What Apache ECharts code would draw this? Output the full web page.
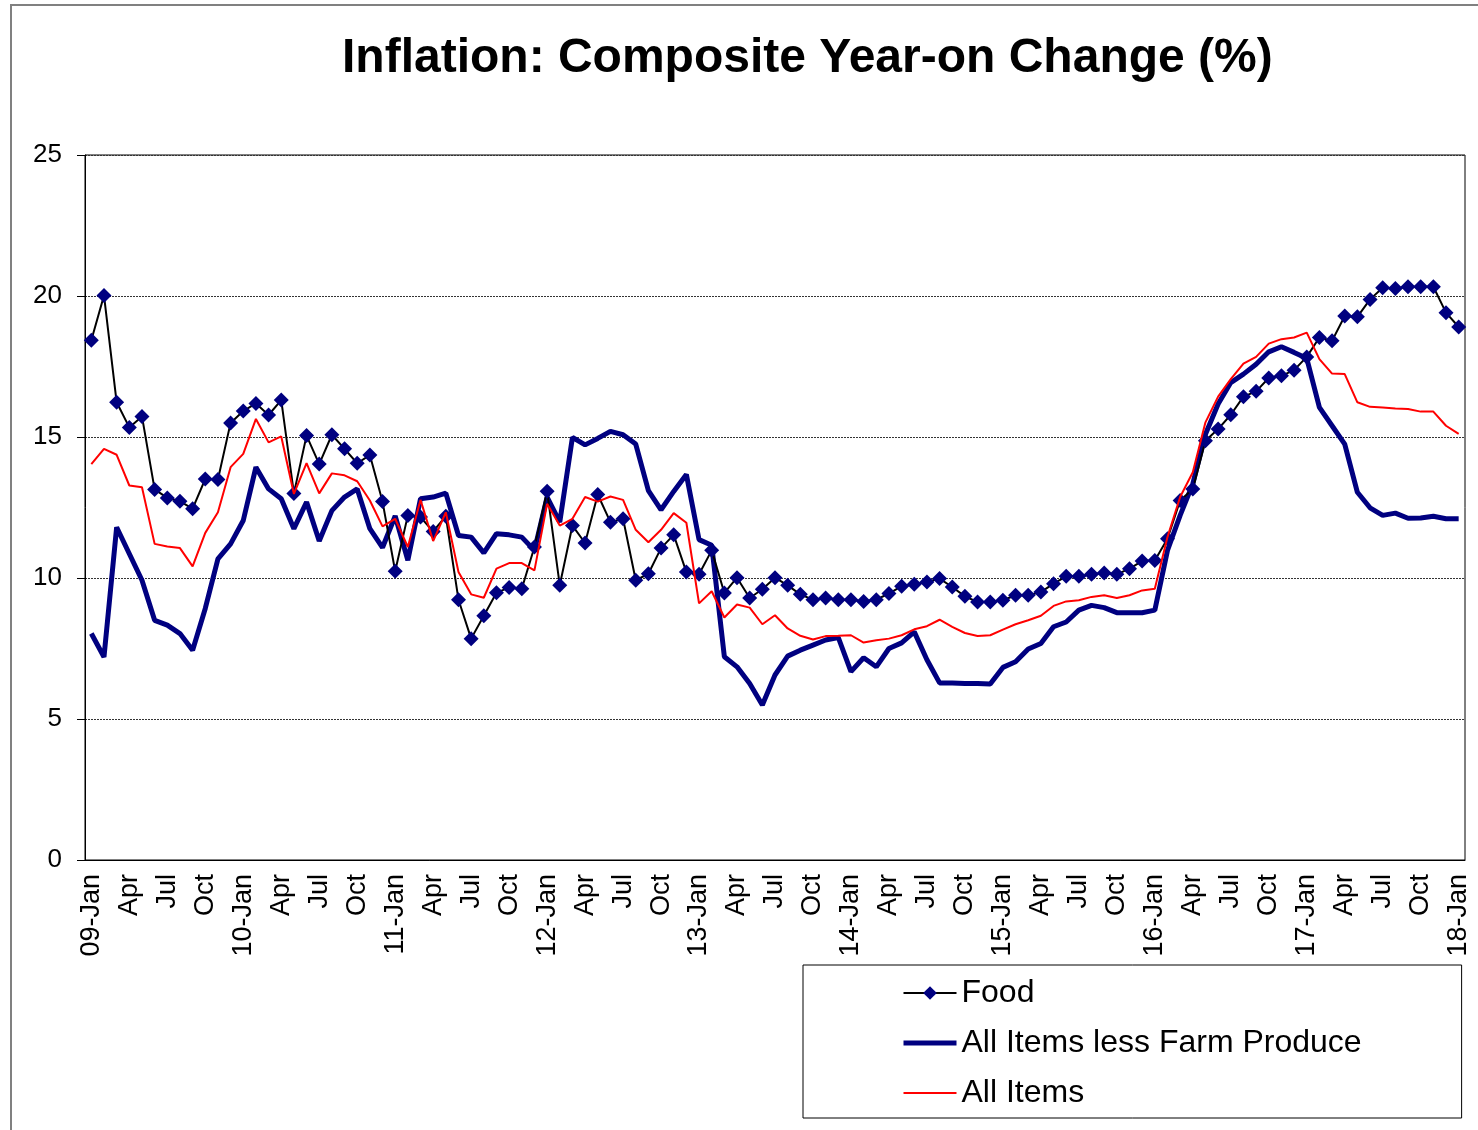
<!DOCTYPE html>
<html>
<head>
<meta charset="utf-8">
<script src="https://cdn.jsdelivr.net/npm/echarts@6/dist/echarts.min.js"></script>
<style>
  html, body { margin: 0; padding: 0; background: #fff; }
  #chart { width: 1478px; height: 1130px; }
</style>
</head>
<body>
<div id="chart"></div>
<script>
// months Jan 2009 .. Jan 2018
const years = ['09', '10', '11', '12', '13', '14', '15', '16', '17', '18'];
const monthNames = ['Jan', 'Feb', 'Mar', 'Apr', 'May', 'Jun', 'Jul', 'Aug', 'Sep', 'Oct', 'Nov', 'Dec'];

const categories = [];
years.forEach((y, yi) => {
    monthNames.forEach((m, mi) => {
        if (yi === years.length - 1 && mi > 0) return;
        categories.push(mi === 0 ? `${y}-${m}` : m);
    });
});

const food = [
    18.43, 20.02, 16.23, 15.34, 15.73, 13.14, 12.84, 12.72, 12.46, 13.51, 13.49, 15.5,
    15.92, 16.19, 15.78, 16.31, 13.0, 15.05, 14.04, 15.08, 14.58, 14.07, 14.36, 12.71,
    10.24, 12.22, 12.16, 11.65, 12.19, 9.23, 7.85, 8.66, 9.48, 9.66, 9.62, 11.1,
    13.08, 9.74, 11.86, 11.24, 12.96, 11.98, 12.1, 9.92, 10.15, 11.06, 11.53, 10.21,
    10.13, 10.98, 9.47, 10.01, 9.29, 9.6, 10.01, 9.74, 9.42, 9.23, 9.29, 9.23,
    9.23, 9.17, 9.23, 9.45, 9.71, 9.78, 9.86, 9.98, 9.68, 9.35, 9.15, 9.15,
    9.21, 9.39, 9.39, 9.5, 9.8, 10.06, 10.06, 10.13, 10.18, 10.13, 10.33, 10.6,
    10.62, 11.39, 12.75, 13.16, 14.87, 15.28, 15.79, 16.43, 16.62, 17.09, 17.17, 17.37,
    17.84, 18.53, 18.41, 19.29, 19.26, 19.88, 20.29, 20.27, 20.33, 20.33, 20.33, 19.41,
    18.9
];

const lessFarm = [
    8.03, 7.2, 11.8, 10.86, 9.92, 8.5, 8.33, 8.03, 7.44, 8.92, 10.68, 11.21,
    12.04, 13.93, 13.16, 12.81, 11.75, 12.69, 11.31, 12.39, 12.87, 13.16, 11.75, 11.08,
    12.2, 10.63, 12.81, 12.87, 13.01, 11.51, 11.45, 10.89, 11.57, 11.53, 11.45, 10.98,
    12.87, 11.98, 14.99, 14.72, 14.95, 15.2, 15.08, 14.75, 13.1, 12.42, 13.07, 13.67,
    11.36, 11.16, 7.21, 6.85, 6.26, 5.5, 6.56, 7.23, 7.44, 7.62, 7.8, 7.89,
    6.68, 7.17, 6.85, 7.5, 7.7, 8.09, 7.1, 6.28, 6.28, 6.26, 6.26, 6.24,
    6.83, 7.03, 7.48, 7.68, 8.27, 8.44, 8.86, 9.03, 8.95, 8.77, 8.77, 8.77,
    8.86, 10.98, 12.22, 13.34, 15.1, 16.17, 16.93, 17.23, 17.58, 18.02, 18.2, 18.0,
    17.79, 16.05, 15.4, 14.75, 13.04, 12.49, 12.22, 12.3, 12.12, 12.13, 12.19, 12.1,
    12.1
];

const allItems = [
    14.04, 14.58, 14.37, 13.28, 13.22, 11.21, 11.12, 11.06, 10.41, 11.6, 12.33, 13.93,
    14.4, 15.64, 14.81, 15.02, 12.98, 14.07, 13.0, 13.71, 13.64, 13.43, 12.75, 11.83,
    12.1, 11.1, 12.77, 11.31, 12.33, 10.21, 9.42, 9.3, 10.33, 10.53, 10.53, 10.27,
    12.63, 11.86, 12.1, 12.87, 12.71, 12.89, 12.77, 11.71, 11.27, 11.71, 12.3, 11.96,
    9.1, 9.53, 8.6, 9.06, 8.95, 8.36, 8.68, 8.21, 7.95, 7.82, 7.94, 7.95,
    7.97, 7.71, 7.79, 7.85, 7.97, 8.18, 8.29, 8.52, 8.27, 8.05, 7.94, 7.97,
    8.17, 8.36, 8.5, 8.66, 9.01, 9.17, 9.21, 9.33, 9.39, 9.29, 9.39, 9.56,
    9.62, 11.45, 12.87, 13.75, 15.52, 16.43, 17.05, 17.6, 17.84, 18.31, 18.47, 18.53,
    18.7, 17.76, 17.25, 17.23, 16.23, 16.07, 16.05, 16.01, 15.99, 15.9, 15.9, 15.4,
    15.11
];

const font = "'Liberation Sans', Arial, sans-serif";
const noMarker = { color: 'rgba(0,0,0,0)', borderWidth: 0 };

const chart = echarts.init(document.getElementById('chart'));

const option = {
    animation: false,
    backgroundColor: '#fff',
    title: {
        text: 'Inflation: Composite Year-on Change (%)',
        left: 342,
        top: 35,
        padding: 0,
        textStyle: { fontFamily: font, fontSize: 48, fontWeight: 'bold', color: '#000' }
    },
    graphic: [{
        type: 'rect',
        shape: { x: 11, y: 5, width: 1600, height: 1300 },
        style: { fill: 'none', stroke: '#808080', lineWidth: 2 },
        silent: true
    }],
    legend: {
        orient: 'vertical',
        left: 803,
        top: 965,
        padding: [12, 100, 9, 98],
        itemGap: 18,
        itemWidth: 53,
        itemHeight: 17,
        borderColor: '#000',
        borderWidth: 1,
        textStyle: { fontFamily: font, fontSize: 32, lineHeight: 32, color: '#000' },
        data: [
            { name: 'Food' },
            { name: 'All Items less Farm Produce', itemStyle: noMarker, lineStyle: { width: 5 } },
            { name: 'All Items', itemStyle: noMarker, lineStyle: { width: 2 } }
        ]
    },
    grid: {
        left: 85,
        right: 13,
        top: 155,
        bottom: 270,
        show: true,
        borderColor: '#000',
        borderWidth: 1
    },
    xAxis: {
        type: 'category',
        data: categories,
        boundaryGap: true,
        axisLine: { lineStyle: { color: '#000', width: 1 } },
        axisTick: { interval: 2, length: 6, lineStyle: { color: '#000' } },
        axisLabel: {
            interval: 2,
            rotate: 90,
            margin: 14,
            fontFamily: font,
            fontSize: 27,
            color: '#000'
        },
        splitLine: { show: false }
    },
    yAxis: {
        type: 'value',
        min: 0,
        max: 25,
        interval: 5,
        axisLine: { show: true, lineStyle: { color: '#000', width: 1 } },
        axisTick: { show: true, length: 8, lineStyle: { color: '#000' } },
        axisLabel: { margin: 23, fontFamily: font, fontSize: 26, color: '#000' },
        splitLine: { lineStyle: { color: '#333', width: 1, type: [2, 1] } }
    },
    series: [
        {
            name: 'Food',
            type: 'line',
            data: food,
            symbol: 'diamond',
            symbolSize: 15,
            showAllSymbol: true,
            lineStyle: { color: '#000', width: 2 },
            itemStyle: { color: '#000080', borderWidth: 0 },
            z: 3
        },
        {
            name: 'All Items less Farm Produce',
            type: 'line',
            data: lessFarm,
            symbol: 'none',
            lineStyle: { color: '#000080', width: 5 },
            itemStyle: { color: '#000080' },
            z: 2
        },
        {
            name: 'All Items',
            type: 'line',
            data: allItems,
            symbol: 'none',
            lineStyle: { color: '#ff0000', width: 2 },
            itemStyle: { color: '#ff0000' },
            z: 4
        }
    ]
};

chart.setOption(option);
</script>
</body>
</html>
